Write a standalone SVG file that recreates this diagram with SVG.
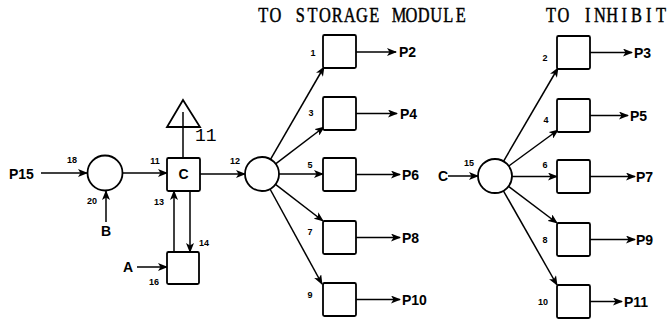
<svg xmlns="http://www.w3.org/2000/svg" width="672" height="320" viewBox="0 0 672 320">
<defs>
<marker id="ah" markerWidth="10" markerHeight="8" refX="9" refY="4" orient="auto" markerUnits="userSpaceOnUse">
<path d="M0,0 L10,4 L0,8 L2.5,4 z" fill="#000"/>
</marker>
<style>
.n{fill:#fff;stroke:#000;stroke-width:1.8}
.c{stroke:#000;stroke-width:1.5;fill:none}
.a{marker-end:url(#ah)}
.s{font-family:"Liberation Sans",Arial,sans-serif;font-weight:bold;font-size:9px;fill:#000;text-anchor:middle}
.p{font-family:"Liberation Sans",Arial,sans-serif;font-weight:bold;font-size:14px;fill:#000}
.t{font-family:"Liberation Serif","Times New Roman",serif;font-size:20px;fill:#000;stroke:#000;stroke-width:0.45;text-anchor:middle}
</style>
</defs>
<rect width="672" height="320" fill="#fff"/>
<g transform="scale(0.82,1)">
<text class="t" x="321.0 336.0 351.1 366.1 381.2 396.2 411.3 426.3 441.5 456.5 471.6 486.6 501.7 516.7 531.8 546.8 562.0" y="22">TO STORAGE MODULE</text>
<text class="t" x="672.1 687.0 701.8 716.7 731.6 746.5 761.3 776.2 791.1 806.0" y="22">TO INHIBIT</text>
</g>
<g id="connectors">
<line class="c a" x1="41" y1="173" x2="87" y2="173"/>
<line class="c a" x1="106" y1="222" x2="106" y2="191"/>
<line class="c a" x1="123" y1="173" x2="167" y2="173"/>
<line class="c" x1="183" y1="158" x2="183" y2="127"/>
<line class="c a" x1="174" y1="252" x2="174" y2="191"/>
<line class="c a" x1="190" y1="191" x2="190" y2="252"/>
<line class="c a" x1="137" y1="267" x2="167" y2="267"/>
<line class="c a" x1="200" y1="174" x2="245" y2="174"/>
<line class="c a" x1="270.5" y1="159.3" x2="324" y2="67"/>
<line class="c a" x1="275.6" y1="163.8" x2="324" y2="127"/>
<line class="c a" x1="279" y1="174" x2="323" y2="174"/>
<line class="c a" x1="275.5" y1="184.4" x2="323" y2="221"/>
<line class="c a" x1="270" y1="189" x2="322" y2="284"/>
<line class="c a" x1="356" y1="52" x2="396" y2="52"/>
<line class="c a" x1="356" y1="113.5" x2="397" y2="113.5"/>
<line class="c a" x1="356" y1="174.5" x2="400" y2="174.5"/>
<line class="c a" x1="356" y1="237.5" x2="400" y2="237.5"/>
<line class="c a" x1="356" y1="299.5" x2="400" y2="299.5"/>
<line class="c a" x1="448" y1="176" x2="478" y2="176"/>
<line class="c a" x1="503.5" y1="161.3" x2="558" y2="68"/>
<line class="c a" x1="508.8" y1="166" x2="558" y2="130"/>
<line class="c a" x1="512" y1="176.5" x2="557" y2="176.5"/>
<line class="c a" x1="508.5" y1="186.3" x2="557" y2="223"/>
<line class="c a" x1="503.4" y1="190.8" x2="557" y2="285"/>
<line class="c a" x1="590" y1="52.5" x2="632" y2="52.5"/>
<line class="c a" x1="590" y1="115.5" x2="628" y2="115.5"/>
<line class="c a" x1="590" y1="176.5" x2="635" y2="176.5"/>
<line class="c a" x1="590" y1="239.5" x2="635" y2="239.5"/>
<line class="c a" x1="590" y1="301.5" x2="622" y2="301.5"/>
</g>
<g id="inputs">
<text class="p" x="9" y="179">P15</text>
<text class="p" x="106" y="236" text-anchor="middle">B</text>
<text class="p" x="128" y="272" text-anchor="middle">A</text>
<text class="p" x="443" y="181" text-anchor="middle">C</text>
</g>
<g id="circle1"><circle class="n" cx="105" cy="173" r="17.5"/></g>
<g id="boxC"><rect class="n" x="167" y="158" width="33" height="33" rx="1.5"/><text class="p" x="183.5" y="179" text-anchor="middle" font-size="13">C</text></g>
<g id="triangle"><polygon class="n" points="183,100 167,127 200,127"/><line class="c" x1="183" y1="112" x2="183" y2="126"/><text font-family="'Liberation Mono','Courier New',monospace" font-size="18" x="195" y="141">11</text></g>
<g id="boxA"><rect class="n" x="167" y="252" width="32" height="32" rx="1.5"/></g>
<g id="circle2"><circle class="n" cx="262" cy="174" r="17"/></g>
<g id="box1"><rect class="n" x="323" y="35" width="33" height="33" rx="1.5"/></g>
<g id="box3"><rect class="n" x="323" y="97" width="33" height="33" rx="1.5"/></g>
<g id="box5"><rect class="n" x="323" y="158" width="33" height="33" rx="1.5"/></g>
<g id="box7"><rect class="n" x="323" y="221" width="33" height="33" rx="1.5"/></g>
<g id="box9"><rect class="n" x="323" y="283" width="33" height="33" rx="1.5"/></g>
<g id="circle3"><circle class="n" cx="495" cy="176" r="17"/></g>
<g id="box2"><rect class="n" x="557" y="36" width="33" height="33" rx="1.5"/></g>
<g id="box4"><rect class="n" x="557" y="99" width="33" height="33" rx="1.5"/></g>
<g id="box6"><rect class="n" x="557" y="160" width="33" height="33" rx="1.5"/></g>
<g id="box8"><rect class="n" x="557" y="223" width="33" height="33" rx="1.5"/></g>
<g id="box10"><rect class="n" x="557" y="285" width="33" height="33" rx="1.5"/></g>
<g id="outputs">
<text class="p" x="399" y="57">P2</text>
<text class="p" x="400" y="118.5">P4</text>
<text class="p" x="402" y="179.5">P6</text>
<text class="p" x="402" y="242.5">P8</text>
<text class="p" x="402" y="304.5">P10</text>
<text class="p" x="634" y="57.5">P3</text>
<text class="p" x="630" y="120.5">P5</text>
<text class="p" x="636" y="181.5">P7</text>
<text class="p" x="636" y="244.5">P9</text>
<text class="p" x="624" y="306.5">P11</text>
</g>
<g id="labels">
<text class="s" x="72" y="163">18</text>
<text class="s" x="92" y="204">20</text>
<text class="s" x="155" y="164">11</text>
<text class="s" x="159" y="205">13</text>
<text class="s" x="204" y="246">14</text>
<text class="s" x="154" y="285">16</text>
<text class="s" x="235" y="164">12</text>
<text class="s" x="313" y="56">1</text>
<text class="s" x="311" y="116">3</text>
<text class="s" x="310" y="168">5</text>
<text class="s" x="310" y="235">7</text>
<text class="s" x="310" y="298">9</text>
<text class="s" x="469" y="166">15</text>
<text class="s" x="545" y="61">2</text>
<text class="s" x="546" y="123">4</text>
<text class="s" x="545" y="168">6</text>
<text class="s" x="545" y="243">8</text>
<text class="s" x="543" y="305">10</text>
</g>
</svg>
